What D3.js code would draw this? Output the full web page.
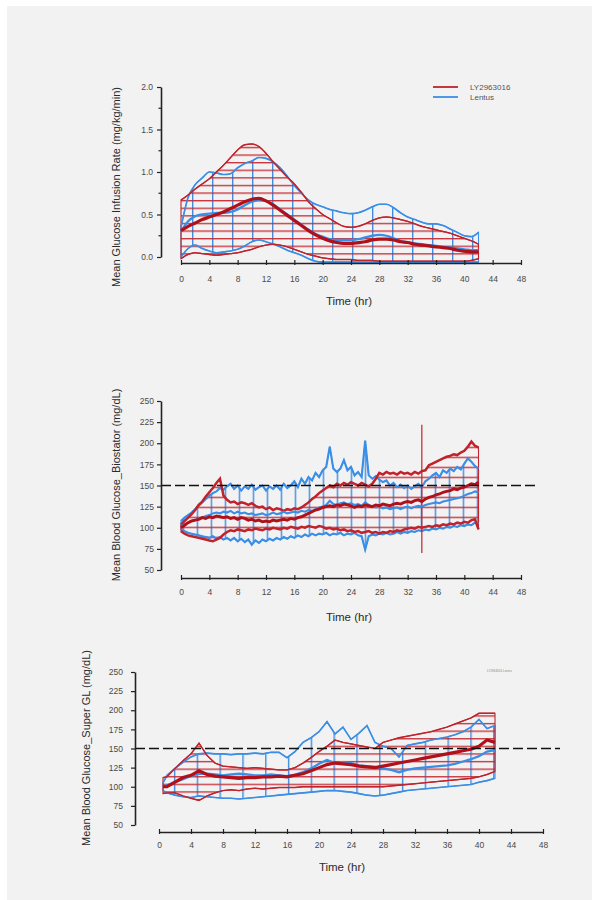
<!DOCTYPE html>
<html><head><meta charset="utf-8">
<script src="https://cdnjs.cloudflare.com/ajax/libs/d3/7.8.5/d3.min.js"></script>
<style>html,body{margin:0;padding:0;background:#fff;} svg{display:block;} text{font-family:"Liberation Sans",Arial,sans-serif;}</style>
</head><body><svg id="c" width="592" height="900"></svg>
<script>
// ---------- Panel 1: Glucose infusion rate (t = 0..42 h, step 1) ----------
const GIR_T = d3.range(0, 43, 1);
const GIR_LY_HI = [0.67,0.73,0.80,0.86,0.92,1.00,1.08,1.17,1.26,1.32, 1.33,1.30,1.22,1.12,1.03,0.94,0.86,0.76,0.65,0.57, 0.50,0.45,0.40,0.36,0.35,0.36,0.39,0.43,0.46,0.47, 0.46,0.44,0.42,0.39,0.36,0.34,0.32,0.30,0.28,0.25, 0.22,0.19,0.15];
const GIR_LY_MEAN = [0.31,0.36,0.40,0.44,0.47,0.50,0.53,0.57,0.61,0.65, 0.68,0.69,0.66,0.61,0.55,0.49,0.43,0.37,0.31,0.26, 0.22,0.19,0.17,0.16,0.16,0.17,0.18,0.20,0.21,0.21, 0.20,0.18,0.17,0.15,0.14,0.13,0.12,0.11,0.10,0.08, 0.07,0.06,0.06];
const GIR_LY_LO = [-0.02,0.03,0.05,0.04,0.03,0.02,0.03,0.04,0.05,0.07, 0.09,0.12,0.14,0.15,0.14,0.12,0.09,0.06,0.03,0.01, -0.01,-0.02,-0.03,-0.03,-0.03,-0.04,-0.04,-0.04,-0.05,-0.05, -0.05,-0.05,-0.05,-0.05,-0.05,-0.05,-0.05,-0.05,-0.05,-0.05, -0.05,-0.04,-0.02];
const GIR_LE_HI = [0.35,0.70,0.85,0.93,1.00,0.99,0.97,0.98,1.05,1.10, 1.13,1.17,1.16,1.12,1.05,0.95,0.84,0.75,0.67,0.62, 0.59,0.56,0.54,0.52,0.51,0.52,0.55,0.59,0.62,0.62, 0.58,0.52,0.47,0.44,0.41,0.39,0.39,0.37,0.33,0.29, 0.25,0.24,0.29];
const GIR_LE_MEAN = [0.30,0.42,0.48,0.50,0.51,0.52,0.52,0.53,0.56,0.61, 0.65,0.67,0.66,0.62,0.56,0.50,0.44,0.38,0.32,0.27, 0.24,0.21,0.20,0.20,0.20,0.21,0.23,0.25,0.26,0.25, 0.22,0.19,0.17,0.16,0.15,0.14,0.13,0.12,0.11,0.10, 0.09,0.08,0.08];
const GIR_LE_LO = [0.00,0.10,0.14,0.10,0.07,0.05,0.06,0.07,0.09,0.13, 0.18,0.20,0.18,0.15,0.12,0.08,0.05,0.02,-0.02,-0.05, -0.06,-0.06,-0.06,-0.06,-0.06,-0.06,-0.06,-0.06,-0.06,-0.06, -0.06,-0.06,-0.06,-0.06,-0.06,-0.06,-0.06,-0.06,-0.06,-0.06, -0.06,-0.06,-0.06];

// ---------- Panel 2: Blood glucose, Biostator (t = 0..42 h, step 0.5) ----------
const BS_T = d3.range(0, 42.01, 0.5);
const BS_LY_HI = [104,108,112,116,121,127,131,137,142,147, 153,158,138,133,130,131,128,130,129,127, 129,126,124,125,122,124,121,123,122,120, 122,121,123,122,124,127,130,134,137,141, 144,147,150,148,152,150,153,151,154,152, 150,153,151,149,152,158,165,163,166,164, 165,163,166,164,165,163,166,164,167,168, 174,176,178,180,182,184,185,187,186,189, 191,196,202,197,195];
const BS_LY_MEAN = [100,103,106,108,109,110,112,111,113,112, 114,113,112,113,111,112,110,112,111,109, 110,108,109,107,108,107,109,108,109,110, 109,111,110,112,113,115,117,119,121,122, 124,125,126,125,127,126,128,127,126,124, 126,125,127,126,125,127,126,128,127,126, 128,129,128,130,131,130,132,133,131,134, 136,137,139,140,142,143,144,146,145,147, 148,150,152,151,154];
const BS_LY_LO = [96,93,91,90,89,88,87,86,85,84, 86,88,92,95,97,96,98,97,96,98, 97,99,98,97,99,98,100,99,98,100, 99,101,100,99,101,100,102,101,100,102, 101,99,100,98,99,97,98,96,97,95, 96,94,95,96,94,95,93,95,94,96, 95,97,96,98,99,100,99,101,100,101, 102,101,103,102,104,103,105,104,106,105, 107,106,109,110,98];
const BS_LY_SPIKE = { t: 34, lo: 70, hi: 222 };
const BS_LE_HI = [108,112,115,118,122,126,130,134,138,141, 143,147,145,149,152,146,150,144,149,146, 151,145,148,150,144,149,146,150,145,152, 147,150,155,148,158,152,160,156,165,160, 168,172,196,170,166,170,180,168,172,162, 166,160,203,162,158,161,157,154,156,150, 153,148,151,147,150,146,149,152,148,155, 158,162,165,160,168,165,170,167,172,169, 176,182,178,173,170];
const BS_LE_MEAN = [102,104,106,108,109,111,112,114,115,117, 118,117,119,118,120,117,119,117,118,116, 117,115,116,117,115,116,118,116,117,119, 117,118,119,118,120,119,121,120,122,124, 125,127,132,128,127,129,130,128,129,127, 128,126,130,127,125,124,125,123,124,122, 123,124,122,124,125,123,125,126,125,127, 128,129,130,129,131,132,133,134,135,136, 138,140,141,143,142];
const BS_LE_LO = [98,96,94,93,92,91,90,89,88,90, 87,89,86,88,85,88,84,87,83,86, 80,85,82,86,84,87,85,88,86,89, 87,90,88,91,89,92,90,93,91,93, 92,94,91,93,92,94,91,93,92,94, 91,90,74,90,92,91,93,92,94,92, 93,95,93,95,94,96,95,97,96,98, 97,99,98,100,99,101,100,102,101,103, 102,104,103,106,105];

// ---------- Panel 3: Blood glucose, Super GL (t = 0.5, 1..42 h) ----------
const SG_T = [0.5].concat(d3.range(1, 43, 1));
const SG_LY_HI = [112,113,124,134,143,157,141,131,127,126, 125,124,125,124,123,122,122,125,131,138, 146,153,161,158,156,154,152,150,158,161, 164,166,168,170,172,175,178,182,186,190, 196,196,196];
const SG_LY_MEAN = [100,100,106,112,115,121,116,114,113,112, 111,112,112,113,113,114,113,115,117,121, 125,129,131,130,129,127,126,125,127,129, 131,133,135,137,139,141,143,145,147,149, 153,161,158];
const SG_LY_LO = [91,92,92,88,85,82,88,92,95,96, 95,97,98,97,98,99,99,99,100,100, 100,100,100,100,100,100,100,100,100,101, 102,103,104,105,106,107,108,109,110,111, 113,116,120];
const SG_LE_HI = [105,115,124,132,139,143,144,143,143,142, 143,143,144,143,145,145,138,146,158,164, 172,185,169,178,162,170,180,158,153,150, 139,154,156,158,161,163,165,168,172,178, 188,176,180];
const SG_LE_MEAN = [100,102,106,110,114,117,117,116,115,116, 117,116,115,115,116,115,114,116,119,124, 130,135,131,132,131,128,127,126,124,122, 119,122,124,125,126,127,128,130,133,136, 140,146,148];
const SG_LE_LO = [95,92,89,87,86,88,87,86,85,85, 84,85,86,87,88,89,90,91,92,93, 94,95,95,94,93,91,89,88,89,91, 93,95,96,97,98,99,100,101,102,103, 106,108,111];

// ---------- Axis ticks & labels ----------
const X_TICKS = d3.range(0, 49, 4);
const GIR_TICKS = [0, 0.5, 1.0, 1.5, 2.0];
const GIR_MINOR = [0.25, 0.75, 1.25, 1.75];
const BG_TICKS = [50, 75, 100, 125, 150, 175, 200, 225, 250];
const TARGET_BG = 150;
const SERIES = ["LY2963016", "Lentus"];
const X_TITLE = "Time (hr)";
const Y_TITLES = ["Mean Glucose Infusion Rate (mg/kg/min)", "Mean Blood Glucose_Biostator (mg/dL)", "Mean Blood Glucose_Super GL (mg/dL)"];

const RED = "#c0232b", RED_DARK = "#b0101a", BLUE = "#3a8ee6";

const svg = d3.select("#c");
svg.append("rect").attr("x", 7).attr("y", 6).attr("width", 585).attr("height", 894).attr("fill", "#f2f2f2");
const defs = svg.append("defs");

function hatch(id, dir, color, x0, y0, step, w) {
  const p = defs.append("pattern").attr("id", id).attr("patternUnits", "userSpaceOnUse").attr("x", x0).attr("y", y0);
  if (dir === "h") {
    p.attr("width", 10).attr("height", step);
    p.append("line").attr("x1", 0).attr("x2", 10).attr("y1", 0.7).attr("y2", 0.7).attr("stroke", color).attr("stroke-width", w);
  } else {
    p.attr("width", step).attr("height", 10);
    p.append("line").attr("y1", 0).attr("y2", 10).attr("x1", 0.7).attr("x2", 0.7).attr("stroke", color).attr("stroke-width", w);
  }
}

function rows(T, lo, hi, mean) { return T.map((t, i) => ({ t, lo: lo[i], hi: hi[i], v: mean[i] })); }

function panel(o) {
  const x = d3.scaleLinear().domain([0, 48]).range(o.xr);
  const y = d3.scaleLinear().domain(o.yd).range(o.yr);
  const g = svg.append("g");
  hatch(o.id + "R", "h", "#c42a33", 0, o.hatchY0, o.hatchRStep, 1.3);
  hatch(o.id + "B", "v", "#3f8de3", o.hatchX0, 0, o.hatchBStep, 1.4);

  const area = d3.area().x(d => x(d.t)).y0(d => y(d.lo)).y1(d => y(d.hi)).curve(o.curve);
  const line = d3.line().x(d => x(d.t)).y(d => y(d.v)).curve(o.curve);
  const lineHi = d3.line().x(d => x(d.t)).y(d => y(d.hi)).curve(o.curve);
  const lineLo = d3.line().x(d => x(d.t)).y(d => y(d.lo)).curve(o.curve);

  g.append("path").datum(o.le).attr("d", area).attr("fill", `url(#${o.id}B)`).attr("stroke", BLUE).attr("stroke-width", 1.1);
  g.append("path").datum(o.ly).attr("d", area).attr("fill", `url(#${o.id}R)`).attr("stroke", RED).attr("stroke-width", 1.1);
  [lineHi, lineLo].forEach(l => g.append("path").datum(o.le).attr("d", l).attr("fill", "none").attr("stroke", BLUE).attr("stroke-width", o.edgeB));
  [lineHi, lineLo].forEach(l => g.append("path").datum(o.ly).attr("d", l).attr("fill", "none").attr("stroke", RED).attr("stroke-width", o.edgeR));
  if (o.spike) {
    g.append("line").attr("x1", x(o.spike.t)).attr("x2", x(o.spike.t)).attr("y1", y(o.spike.lo)).attr("y2", y(o.spike.hi))
      .attr("stroke", RED).attr("stroke-width", 1.2);
  }
  g.append("path").datum(o.le).attr("d", line).attr("fill", "none").attr("stroke", BLUE).attr("stroke-width", o.meanB);
  g.append("path").datum(o.ly).attr("d", line).attr("fill", "none").attr("stroke", RED_DARK).attr("stroke-width", o.meanR);

  if (o.target) {
    g.append("line").attr("x1", o.yAxisX).attr("x2", o.targetX2).attr("y1", y(TARGET_BG)).attr("y2", y(TARGET_BG))
      .attr("stroke", "#111").attr("stroke-width", 1.6).attr("stroke-dasharray", "10,4");
  }

  const ya = d3.axisLeft(y).tickValues(o.yTicks).tickFormat(o.yFmt).tickSize(4).tickSizeOuter(0).tickPadding(o.yPad);
  const yg = g.append("g").attr("transform", `translate(${o.yAxisX},0)`).call(ya);
  if (o.yMinor) {
    o.yMinor.forEach(v => yg.append("line").attr("x1", -2.5).attr("x2", 0).attr("y1", y(v)).attr("y2", y(v)).attr("stroke", "#222").attr("stroke-width", 1.2));
  }
  const xa = d3.axisBottom(x).tickValues(X_TICKS).tickSize(4).tickSizeOuter(0);
  const xg = g.append("g").attr("transform", `translate(0,${o.xAxisY})`).call(xa);
  xg.selectAll(".tick line").attr("y1", -3).attr("y2", 2);
  xg.selectAll(".tick text").attr("y", o.xLabDy).attr("dy", 0);

  [yg, xg].forEach(a => {
    a.attr("font-family", null).attr("font-size", null);
    a.select(".domain").attr("stroke", "#222").attr("stroke-width", 1.6);
    a.selectAll(".tick line").attr("stroke", "#222").attr("stroke-width", 1.2);
    a.selectAll(".tick text").attr("fill", "#4a4a4a").style("font-size", "8.5px");
  });

  g.append("text").attr("x", o.xTitle[0]).attr("y", o.xTitle[1]).attr("text-anchor", "middle")
    .attr("fill", "#2a2a2a").style("font-size", "11.5px").text(X_TITLE);
  g.append("text").attr("transform", `translate(${o.yTitle[0]},${o.yTitle[1]}) rotate(-90)`).attr("text-anchor", "middle")
    .attr("fill", "#2a2a2a").style("font-size", o.yTitleSize).text(o.yTitleText);
  return g;
}

const g1 = panel({
  id: "p1", xr: [181, 521], yd: [0, 2], yr: [257, 87], yAxisX: 161, xAxisY: 263, xLabDy: 19,
  yTicks: GIR_TICKS, yMinor: GIR_MINOR, yFmt: d3.format(".1f"), yPad: 4,
  ly: rows(GIR_T, GIR_LY_LO, GIR_LY_HI, GIR_LY_MEAN), le: rows(GIR_T, GIR_LE_LO, GIR_LE_HI, GIR_LE_MEAN),
  curve: d3.curveMonotoneX, edgeR: 1.4, edgeB: 1.6, meanR: 3.2, meanB: 2.3,
  hatchY0: 200, hatchRStep: 7.6, hatchX0: 192, hatchBStep: 20,
  xTitle: [349, 305], yTitle: [120, 187], yTitleText: Y_TITLES[0], yTitleSize: "11px"
});
[[SERIES[0], RED, 87], [SERIES[1], BLUE, 97]].forEach(([s, c, yy]) => {
  g1.append("line").attr("x1", 433).attr("x2", 458).attr("y1", yy).attr("y2", yy).attr("stroke", c).attr("stroke-width", 1.8);
  g1.append("text").attr("x", 470).attr("y", yy + 3).attr("fill", "#555").style("font-size", "8px").text(s);
});

panel({
  id: "p2", xr: [181, 521], yd: [50, 250], yr: [570, 401], yAxisX: 161, xAxisY: 578, xLabDy: 17,
  yTicks: BG_TICKS, yFmt: d3.format("d"), yPad: 3,
  ly: rows(BS_T, BS_LY_LO, BS_LY_HI, BS_LY_MEAN), le: rows(BS_T, BS_LE_LO, BS_LE_HI, BS_LE_MEAN), spike: BS_LY_SPIKE,
  curve: d3.curveLinear, edgeR: 2.5, edgeB: 2.1, meanR: 2.9, meanB: 2.1,
  hatchY0: 496.7, hatchRStep: 10, hatchX0: 336.7, hatchBStep: 14,
  target: true, targetX2: 537,
  xTitle: [349, 621], yTitle: [120, 485], yTitleText: Y_TITLES[1], yTitleSize: "11px"
});

const g3 = panel({
  id: "p3", xr: [159, 543], yd: [50, 250], yr: [825, 672], yAxisX: 135, xAxisY: 832, xLabDy: 16,
  yTicks: BG_TICKS, yFmt: d3.format("d"), yPad: 8,
  ly: rows(SG_T, SG_LY_LO, SG_LY_HI, SG_LY_MEAN), le: rows(SG_T, SG_LE_LO, SG_LE_HI, SG_LE_MEAN),
  curve: d3.curveLinear, edgeR: 1.4, edgeB: 1.6, meanR: 3.2, meanB: 2.3,
  hatchY0: 753.3, hatchRStep: 7.6, hatchX0: 196.7, hatchBStep: 22.8,
  target: true, targetX2: 560,
  xTitle: [342, 871], yTitle: [90, 748], yTitleText: Y_TITLES[2], yTitleSize: "11px"
});
g3.append("text").attr("x", 487).attr("y", 672).attr("fill", "#888").style("font-size", "3px").text(SERIES.join("   "));
</script></body></html>
